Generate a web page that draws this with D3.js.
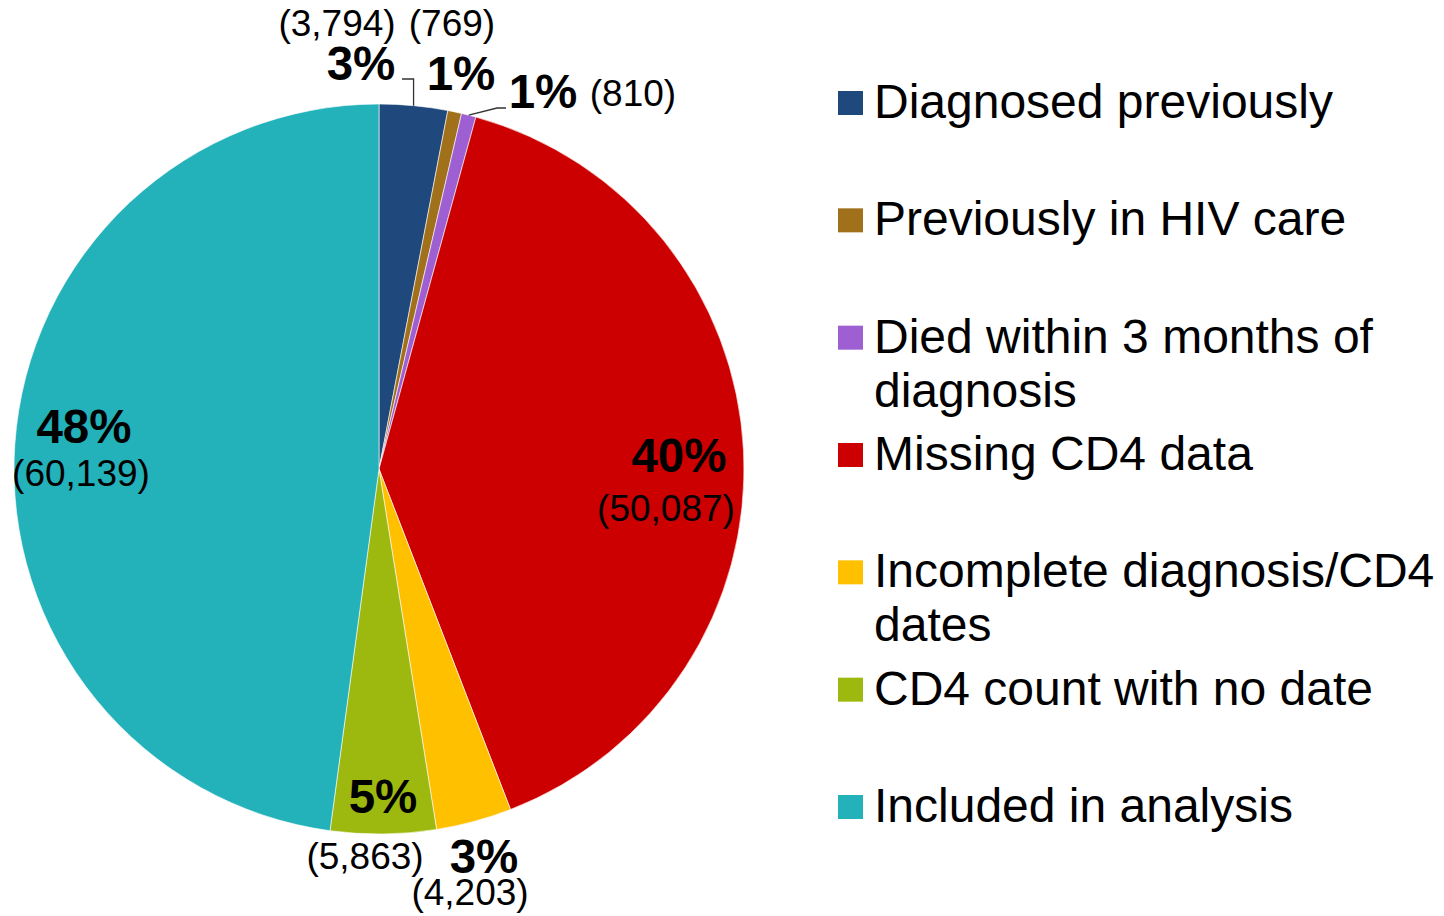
<!DOCTYPE html>
<html><head><meta charset="utf-8">
<script src="https://cdn.jsdelivr.net/npm/d3@7"></script>
<style>html,body{margin:0;padding:0;background:#fff;}svg{display:block;}</style>
</head><body>
<svg id="chart" width="1444" height="916"></svg>
<script>
const categories = ["Diagnosed previously","Previously in HIV care","Died within 3 months of diagnosis","Missing CD4 data","Incomplete diagnosis/CD4 dates","CD4 count with no date","Included in analysis"];
const legendLines = [["Diagnosed previously"],["Previously in HIV care"],["Died within 3 months of","diagnosis"],["Missing CD4 data"],["Incomplete diagnosis/CD4","dates"],["CD4 count with no date"],["Included in analysis"]];
const counts = [3794, 769, 810, 50087, 4203, 5863, 60139];
const countLabels = ["(3,794)","(769)","(810)","(50,087)","(4,203)","(5,863)","(60,139)"];
const pctLabels = ["3%","1%","1%","40%","3%","5%","48%"];
const colors = ["#1F497D","#A0701A","#9E5FD2","#CC0000","#FFC000","#9DB80E","#23B1BA"];

// label layout (centre x, baseline y) for percent and count text
const pctPos = [[361,80],[461,90],[543,108],[679,472],[484,873],[383,813],[84,443]];
const cntPos = [[337,36],[452,36],[633,106],[666,521],[470,905],[365,869],[81,486]];

const svg = d3.select("#chart");
const cx = 379, cy = 469, R = 365;
const font = "'Liberation Sans', Arial, sans-serif";

const pie = d3.pie().sort(null).value(d => d)(counts);
const arc = d3.arc().innerRadius(0).outerRadius(R);
const g = svg.append("g").attr("transform", `translate(${cx},${cy})`);
g.selectAll("path").data(pie).join("path")
  .attr("d", arc).attr("fill", (d,i) => colors[i])
  .attr("stroke", "#fff").attr("stroke-width", 0.6);

// leader lines
function edge(i){ const a = (pie[i].startAngle + pie[i].endAngle)/2; return [cx + R*Math.sin(a), cy - R*Math.cos(a)]; }
const e0 = edge(0);
svg.append("path").attr("d", `M${e0[0]},${e0[1]}L${e0[0]},79L402,79`).attr("fill","none").attr("stroke","#333").attr("stroke-width",1.3);
const e2 = edge(2);
svg.append("path").attr("d", `M${e2[0]},${e2[1]}L497,108L506,108`).attr("fill","none").attr("stroke","#333").attr("stroke-width",1.3);

// labels
svg.selectAll("text.pct").data(pctLabels).join("text").attr("class","pct")
  .attr("x",(d,i)=>pctPos[i][0]).attr("y",(d,i)=>pctPos[i][1])
  .attr("text-anchor","middle").attr("font-family",font).attr("font-weight","bold")
  .attr("font-size",47.5).attr("fill","#000").text(d=>d);
svg.selectAll("text.cnt").data(countLabels).join("text").attr("class","cnt")
  .attr("x",(d,i)=>cntPos[i][0]).attr("y",(d,i)=>cntPos[i][1])
  .attr("text-anchor","middle").attr("font-family",font)
  .attr("font-size",37).attr("fill","#000").text(d=>d);

// legend
const ly = d3.scalePoint().domain(categories).range([118, 822]);
const lg = svg.append("g");
categories.forEach((c,i) => {
  const y = ly(c);
  lg.append("rect").attr("x",838).attr("y",y-27).attr("width",25).attr("height",24).attr("fill",colors[i]);
  const t = lg.append("text").attr("x",874).attr("y",y).attr("font-family",font).attr("font-size",48).attr("fill","#000");
  legendLines[i].forEach((ln,j) => t.append("tspan").attr("x",874).attr("y",y + j*54).text(ln));
});
</script>
</body></html>
